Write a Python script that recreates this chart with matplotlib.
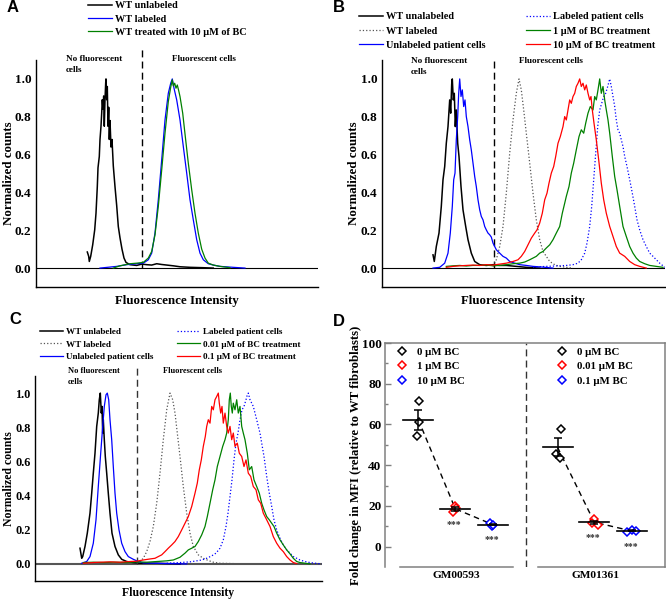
import matplotlib
matplotlib.use("Agg")
import matplotlib.pyplot as plt
from matplotlib.lines import Line2D
import numpy as np

plt.rcParams['font.family'] = ['Liberation Serif', 'DejaVu Serif']
plt.rcParams['font.weight'] = 'bold'
plt.rcParams['axes.labelweight'] = 'bold'

# ---------------- DATA ----------------
# Panel A (x: fluorescence intensity, arbitrary units; y: normalized counts)
A_wt_unlab_x = [51.3,52.7,53.3,54.7,56.7,58.7,60,61.3,62,63.3,64,65,65.7,66.3,67,67.7,68.3,69,69.7,70,70.7,71.3,72,72.7,73.3,74,75,76,77.3,79,80.7,82.3,84,86,88,90,94,100.7,105.7,110.7,115.7,120.7,125.7,130.7,137.3,144,154,167.3,177.3]
A_wt_unlab_y = [0.085,0.062,0.035,0.062,0.123,0.202,0.29,0.43,0.53,0.59,0.68,0.75,0.82,0.89,0.84,0.91,0.75,0.89,0.98,1.0,0.89,0.96,0.75,0.85,0.68,0.78,0.64,0.68,0.54,0.43,0.33,0.22,0.16,0.10,0.053,0.03,0.018,0.014,0.021,0.018,0.016,0.023,0.019,0.016,0.012,0.007,0.004,0.002,0.0]
A_wt_lab_x = [64,80.7,90.7,100.7,107.3,112.3,115.7,119,122.3,125.7,129,132.3,134.7,136.3,138,140.7,144,147.3,150.7,154,157.3,160.7,164,167.3,172.3,177.3,184,197.3,209]
A_wt_lab_y = [0,0.009,0.018,0.023,0.026,0.044,0.079,0.185,0.361,0.572,0.783,0.924,0.977,1.0,0.951,0.889,0.783,0.643,0.502,0.361,0.255,0.150,0.079,0.044,0.023,0.016,0.009,0.004,0]
A_wt_bc_x = [77.3,84,94,100.7,107.3,112.3,115.7,119,122.3,125.7,129,132.3,134.7,136.3,137.3,138.7,140,141.3,142.7,144,146.7,149.3,152.3,155.7,159,162.3,165.7,169,172.3,177.3,184,194]
A_wt_bc_y = [0,0.012,0.023,0.026,0.030,0.053,0.088,0.176,0.326,0.519,0.713,0.880,0.956,0.995,0.963,0.977,0.951,0.968,0.938,0.907,0.819,0.695,0.555,0.414,0.290,0.185,0.100,0.053,0.026,0.016,0.009,0.002]
A_labels = ["WT unlabeled", "WT labeled", "WT treated with 10 μM of BC"]

# Panel B
B_wt_unlab_x = [51,52.3,54.3,57,59.3,61,62.7,64.3,66,67.7,68.7,69.7,70.3,71.3,72.3,73.3,74.3,75.7,77,79,81,83.7,86,89.3,92.7,97.7,104.3,111,117.7,124.3,134.3,144.3,157.7]
B_wt_unlab_y = [0.070,0.035,0.114,0.185,0.326,0.467,0.537,0.660,0.748,0.889,0.819,0.974,1.0,0.889,0.924,0.748,0.836,0.660,0.590,0.431,0.308,0.220,0.150,0.079,0.035,0.018,0.014,0.018,0.014,0.014,0.009,0.004,0]
B_pat_unlab_x = [51,57.7,62.7,66,68.3,70.3,71.7,73,74.3,75.7,76.7,77.7,79,80.3,81.7,83,84.3,86,87.7,89.3,91,92.7,94.3,96,97.7,99.3,101,102.7,104.3,106,107.7,109.3,111,112.7,114.3,117.7,121,124.3,127.7,132.7,137.7,144.3,151,161,171]
B_pat_unlab_y = [0,0.004,0.026,0.079,0.185,0.326,0.467,0.502,0.678,0.801,0.924,1.0,0.907,0.942,0.854,0.889,0.801,0.748,0.678,0.625,0.555,0.484,0.431,0.361,0.308,0.273,0.255,0.220,0.202,0.185,0.176,0.164,0.132,0.114,0.097,0.079,0.062,0.053,0.035,0.026,0.018,0.014,0.009,0.005,0]
B_wt_lab_x = [111,114.3,117.7,121,124.3,127.7,131,134.3,137,139.3,141.7,144.3,147.7,151,154.3,157.7,161,164.3,167.7,172.7,177.7,184.3,191]
B_wt_lab_y = [0.009,0.044,0.114,0.220,0.396,0.607,0.783,0.924,1.0,0.942,0.836,0.713,0.555,0.396,0.255,0.150,0.088,0.062,0.035,0.018,0.009,0.004,0]
B_bc10_x = [64.3,71,77.7,84.3,91,97.7,104.3,111,117.7,124.3,131,136,139.3,142.7,146,149.3,152.7,155,157.7,160.3,162.7,165,167,169.3,171.7,173.7,176,178.3,181,182.7,184.3,186,187.7,189.3,191,192.7,194.3,196,197.7,199.3,201,202.7,204.3,206,207.7,209,210.3,212,214.3,216.7,219.3,221.7,224.3,227.7,231,234.3,237.7,242.7,247.7,252.7,257.7,264.3]
B_bc10_y = [0.004,0.009,0.012,0.014,0.016,0.014,0.018,0.016,0.021,0.026,0.035,0.044,0.062,0.088,0.123,0.158,0.185,0.202,0.238,0.290,0.361,0.396,0.449,0.502,0.537,0.590,0.660,0.695,0.748,0.801,0.783,0.836,0.889,0.871,0.907,0.924,0.960,0.977,1.0,0.960,0.977,0.942,0.968,0.924,0.889,0.907,0.836,0.766,0.678,0.572,0.449,0.361,0.290,0.220,0.167,0.114,0.079,0.062,0.035,0.018,0.009,0]
B_bc1_x = [64.3,71,77.7,84.3,91,97.7,104.3,111,117.7,124.3,131,137.7,142.7,147.7,151,154.3,157.7,161,164.3,167.7,171,174.3,177.7,180.3,182.7,184.3,187,189.3,191.7,194.3,197,199.3,201.7,203.7,206,208.3,211,212.7,214.3,216,217.7,219.3,221,222.7,224.3,226,227.7,230.3,232.7,235,237.7,241,244.3,247.7,251,254.3,257.7,262.7,267.7,274.3,281]
B_bc1_y = [0.009,0.012,0.014,0.011,0.014,0.014,0.016,0.012,0.014,0.018,0.023,0.026,0.032,0.044,0.053,0.062,0.079,0.088,0.106,0.123,0.150,0.185,0.220,0.290,0.343,0.379,0.431,0.502,0.555,0.625,0.695,0.731,0.713,0.766,0.819,0.854,0.836,0.907,0.889,0.942,1.0,0.924,0.960,0.889,0.836,0.783,0.713,0.590,0.484,0.414,0.326,0.220,0.167,0.114,0.079,0.053,0.035,0.023,0.014,0.009,0.004]
B_pat_lab_x = [151,164.3,177.7,184.3,191,196,199.3,202.7,205,207.7,209.7,211.7,213.7,215.7,217.7,219.7,221.7,223.7,225.7,227.7,229.3,231,232.7,234.3,236,237.7,239.3,241,242.7,245,247.7,250.3,252.7,255,257.7,261,264.3,267.7,271,274.3,277.7,281,283]
B_pat_lab_y = [0.005,0.009,0.012,0.014,0.018,0.026,0.044,0.079,0.132,0.220,0.326,0.467,0.607,0.748,0.836,0.871,0.907,0.924,0.960,1.0,0.960,0.907,0.854,0.783,0.731,0.713,0.678,0.643,0.590,0.537,0.467,0.396,0.326,0.255,0.202,0.150,0.114,0.079,0.062,0.044,0.026,0.012,0.004]
B_labels_left = ["WT unalabeled", "WT labeled", "Unlabeled patient cells"]
B_labels_right = ["Labeled patient cells", "1 μM of BC treatment", "10 μM of BC treatment"]

# Panel C
C_wt_unlab_x = [45,46.7,47.7,50,52.3,55,56.7,58.3,60,61.7,63.3,64.3,65.3,66.3,67,67.7,68.3,69.3,70.3,71.7,73.3,75,77,80,83.3,86.7,91.7,98.3,105,111.7,121.7,131.7,145]
C_wt_unlab_y = [0.092,0.033,0.043,0.102,0.180,0.297,0.414,0.531,0.648,0.805,0.883,0.961,1.0,0.883,0.922,0.766,0.844,0.727,0.629,0.531,0.414,0.297,0.180,0.102,0.053,0.027,0.014,0.008,0.004,0.004,0.004,0.002,0]
C_pat_unlab_x = [46.7,51.7,55,58.3,61,63.3,65.7,67.7,69.3,71,72.3,73.7,75,76.7,78.3,80,81.7,84,86.7,90,93.3,98.3,103.3,108.3,118.3,131.7,151.7]
C_pat_unlab_y = [0.004,0.014,0.043,0.121,0.258,0.453,0.648,0.805,0.922,0.990,1.0,0.961,0.844,0.727,0.570,0.414,0.297,0.199,0.121,0.072,0.043,0.027,0.014,0.006,0.004,0.002,0]
C_wt_lab_x = [101.7,105,108.3,111.7,115,118.3,121.7,125,128.3,131.7,135,137.7,140,142.3,145,148.3,151.7,155,158.3,163.3,168.3,173.3,178.3,185,198.3,215]
C_wt_lab_y = [0.004,0.014,0.033,0.072,0.131,0.219,0.355,0.531,0.727,0.902,1.0,0.961,0.883,0.766,0.629,0.453,0.297,0.180,0.102,0.053,0.033,0.020,0.010,0.004,0.002,0]
C_bc01_x = [48.3,58.3,65,75,85,95,101.7,108.3,115,120,123.3,126.7,130,133.3,136.7,140,143.3,146.7,150,153.3,156.7,160,162.3,164.3,166.3,168.3,170.3,171.7,173.3,175,176.7,178.3,180,181.7,183.3,184.3,185.7,187,188.3,190,191.7,193.3,195,196.7,198.3,200,202.3,204.3,206.7,209,211,213.3,215.7,218.3,221,223.3,225.7,228.3,231.7,235,238.3,241.7,245,248.3,251.7,255,258.3,261.7]
C_bc01_y = [0.004,0.008,0.010,0.012,0.010,0.014,0.016,0.023,0.029,0.033,0.043,0.053,0.072,0.092,0.111,0.131,0.160,0.199,0.238,0.277,0.336,0.414,0.473,0.551,0.609,0.688,0.746,0.805,0.844,0.824,0.922,0.902,0.961,0.980,1.0,0.941,0.883,0.922,0.824,0.883,0.805,0.766,0.805,0.727,0.766,0.688,0.707,0.648,0.629,0.570,0.609,0.531,0.512,0.453,0.434,0.375,0.355,0.297,0.258,0.219,0.160,0.121,0.092,0.072,0.043,0.023,0.008,0.002]
C_bc001_x = [48.3,58.3,68.3,78.3,91.7,101.7,111.7,121.7,131.7,138.3,145,150,153.3,156.7,160,163.3,166.7,170,172.3,175,177.7,180,182.3,185,187.7,190,191.7,193.3,194.3,195.3,196.3,197.3,198.3,200,201.7,203.3,205,206.7,208.3,210,212.3,214.3,216.7,219,221.7,224.3,226.7,229,231.7,234.3,236.7,239,241.7,245,248.3,251.7,255,258.3,261.7,265,270,275]
C_bc001_y = [0.008,0.010,0.008,0.010,0.008,0.012,0.010,0.014,0.018,0.023,0.039,0.063,0.082,0.092,0.102,0.131,0.170,0.219,0.277,0.355,0.434,0.492,0.570,0.629,0.688,0.727,0.766,0.844,0.961,1.0,0.922,0.883,0.941,0.902,0.961,0.883,0.922,0.805,0.766,0.727,0.648,0.551,0.570,0.492,0.453,0.414,0.355,0.316,0.277,0.258,0.238,0.219,0.180,0.141,0.111,0.082,0.059,0.033,0.014,0.008,0.004,0]
C_pat_lab_x = [131.7,145,155,161.7,166.7,171.7,176.7,181,185,188.3,191,193,195,197,199,201,203,205,207,209,211,212.3,213.3,215,216.7,218.3,220,221.7,223.3,225,226.7,229,231.7,234.3,236.7,239,241.7,245,248.3,251.7,255,258.3,261.7,265,270,275,280,286.7]
C_pat_lab_y = [0.004,0.008,0.012,0.018,0.023,0.033,0.047,0.063,0.092,0.141,0.219,0.297,0.395,0.492,0.609,0.707,0.766,0.844,0.902,0.922,0.961,0.990,1.0,0.961,0.941,0.922,0.883,0.844,0.805,0.766,0.707,0.629,0.512,0.414,0.336,0.258,0.199,0.150,0.111,0.082,0.063,0.043,0.033,0.023,0.014,0.008,0.004,0]
C_labels_left = ["WT unlabeled", "WT labeled", "Unlabeled patient cells"]
C_labels_right = ["Labeled patient cells", "0.01 μM of BC treatment", "0.1 μM of BC treatment"]

# Panel D (fold change in MFI relative to WT fibroblasts; three replicates each)
D_groups = ["GM00593", "GM01361"]
D_g1_labels = ["0 μM BC", "1 μM BC", "10 μM BC"]
D_g2_labels = ["0 μM BC", "0.01 μM BC", "0.1 μM BC"]
D_g1_values = [[71.4, 61.2, 54.5], [19.9, 16.9, 18.9], [11.6, 10.1, 10.8]]
D_g2_values = [[57.6, 45.3, 43.5], [13.6, 11.5, 10.8], [7.4, 8.2, 7.5]]
D_signif = ["", "***", "***"]

# ---------------- FIGURE ----------------
W, H = 666, 601
fig = plt.figure(figsize=(W / 100, H / 100), dpi=100)

def fx(px):
    return px / W

def fy(py):
    return 1 - py / H

def rect(l, t, r, b):
    return [fx(l), fy(b), (r - l) / W, (b - t) / H]

lw = 0.9
BLACK, BLUE, GREEN, RED, GRAY = 'black', '#0000ff', '#008000', '#ff0000', '#555555'


def hist_axes(r, xmax, tick_size, ylab_size, ylab_x, zero_color, zero_lw):
    ax = fig.add_axes(rect(*r))
    ax.set_xlim(0, xmax)
    ax.set_ylim(-0.1, 1.1)
    for s in ('top', 'right'):
        ax.spines[s].set_visible(False)
    for s in ('left', 'bottom'):
        ax.spines[s].set_linewidth(1.0)
    ax.set_xticks([])
    yt = [0, 0.2, 0.4, 0.6, 0.8, 1.0]
    ax.set_yticks(yt)
    ax.set_yticklabels([f"{v:.1f}" for v in yt])
    ax.tick_params(axis='y', length=0, pad=3.2, labelsize=tick_size)
    ax.axhline(0, color=zero_color, lw=zero_lw, zorder=1)
    ax.set_ylabel("Normalized counts", fontsize=ylab_size, va='center')
    ax.yaxis.set_label_coords(ylab_x, 0.5)
    return ax


def gate(ax, x, ytop, color, left_txt_xy, right_txt_xy, size):
    ax.plot([x, x], [0, ytop], color=color, lw=1.0, ls=(0, (5, 3)), clip_on=False, zorder=1)
    ax.text(*left_txt_xy, "No fluorescent\ncells", transform=fig.transFigure, fontsize=size,
            va='top', ha='left', linespacing=1.45)
    ax.text(*right_txt_xy, "Fluorescent cells", transform=fig.transFigure, fontsize=size,
            va='top', ha='left')


def legend(ax, handles, labels, x, y, size, hl, tp, ls):
    return ax.legend(handles, labels, loc='upper left', bbox_to_anchor=(fx(x), fy(y)),
                     bbox_transform=fig.transFigure, frameon=False, fontsize=size, borderpad=0,
                     borderaxespad=0, handlelength=hl, handletextpad=tp, labelspacing=ls)


# ---- Panel A ----
axA = hist_axes((36, 60, 318, 287), 282, 9.5, 9.3, (9 - 36) / 282, 'black', 0.8)
lA1, = axA.plot(A_wt_unlab_x, A_wt_unlab_y, color=BLACK, lw=1.1)
lA2, = axA.plot(A_wt_lab_x, A_wt_lab_y, color=BLUE, lw=lw)
lA3, = axA.plot(A_wt_bc_x, A_wt_bc_y, color=GREEN, lw=lw)
gate(axA, 106, 1.16, 'black', (fx(66), fy(55)), (fx(172), fy(55)), 6.6)
legend(axA, [lA1, lA2, lA3], A_labels, 88, 1, 7.4, 2.35, 0.3, 0.4)
fig.text(fx(177), fy(301), "Fluorescence Intensity", fontsize=9.3, ha='center', va='center')

# ---- Panel B ----
axB = hist_axes((382, 60, 665, 287), 283, 9.5, 9.3, (354 - 382) / 283, 'black', 0.8)
lB1, = axB.plot(B_wt_unlab_x, B_wt_unlab_y, color=BLACK, lw=1.1)
lB2, = axB.plot(B_wt_lab_x, B_wt_lab_y, color=GRAY, lw=lw, ls=':')
lB3, = axB.plot(B_pat_unlab_x, B_pat_unlab_y, color=BLUE, lw=lw)
lB4, = axB.plot(B_pat_lab_x, B_pat_lab_y, color=BLUE, lw=lw, ls=':')
lB5, = axB.plot(B_bc1_x, B_bc1_y, color=GREEN, lw=lw)
lB6, = axB.plot(B_bc10_x, B_bc10_y, color=RED, lw=lw)
gate(axB, 112, 1.11, 'black', (fx(411), fy(57)), (fx(519), fy(57)), 6.6)
legB1 = legend(axB, [lB1, lB2, lB3], B_labels_left, 359, 12, 7.4, 2.35, 0.3, 0.5)
axB.add_artist(legB1)
legend(axB, [lB4, lB5, lB6], B_labels_right, 526, 12, 7.4, 2.35, 0.25, 0.5)
fig.text(fx(523), fy(301), "Fluorescence Intensity", fontsize=9.3, ha='center', va='center')

# ---- Panel C ----
axC = hist_axes((35, 376, 322, 581), 287, 8.8, 8.5, (9 - 35) / 287, '#555555', 1.5)
lC1, = axC.plot(C_wt_unlab_x, C_wt_unlab_y, color=BLACK, lw=1.1)
lC2, = axC.plot(C_wt_lab_x, C_wt_lab_y, color=GRAY, lw=lw, ls=':')
lC3, = axC.plot(C_pat_unlab_x, C_pat_unlab_y, color=BLUE, lw=lw)
lC4, = axC.plot(C_pat_lab_x, C_pat_lab_y, color=BLUE, lw=lw, ls=':')
lC5, = axC.plot(C_bc001_x, C_bc001_y, color=GREEN, lw=lw)
lC6, = axC.plot(C_bc01_x, C_bc01_y, color=RED, lw=lw)
gate(axC, 102, 1.15, '#333333', (fx(68), fy(367)), (fx(163), fy(367)), 6.0)
legC1 = legend(axC, [lC1, lC2, lC3], C_labels_left, 40, 328, 6.6, 2.55, 0.25, 0.42)
axC.add_artist(legC1)
legend(axC, [lC4, lC5, lC6], C_labels_right, 177, 328, 6.6, 2.55, 0.25, 0.42)
fig.text(fx(178), fy(593), "Fluorescence Intensity", fontsize=8.5, ha='center', va='center')

# ---- Panel D ----
axD = fig.add_axes(rect(385, 343, 665, 567))
axD.set_xlim(0, 280)
axD.set_ylim(-10, 100)
DGRAY = '#808080'
for s in ('top', 'right', 'left'):
    axD.spines[s].set_color(DGRAY)
    axD.spines[s].set_linewidth(1.1)
axD.spines['bottom'].set_visible(False)
axD.set_yticks([0, 20, 40, 60, 80, 100])
axD.set_yticks([10, 30, 50, 70, 90], minor=True)
axD.tick_params(axis='y', which='major', direction='in', length=4, width=1, color=DGRAY,
                pad=2.5, labelsize=9.5)
axD.tick_params(axis='y', which='minor', direction='in', length=2.5, width=1, color=DGRAY)
axD.set_ylabel("Fold change in MFI (relative to WT fibroblasts)", fontsize=9.2, va='center')
axD.yaxis.set_label_coords((356 - 385) / 280, 0.5)

pos_g1 = [33.3, 70.3, 107.8]
pos_g2 = [172.5, 209.3, 246.7]
jit_g1 = [[1, 1, -1], [0, -2, 1], [-3, -1, 0.5]]
jit_g2 = [[3.5, -1.5, 2], [0, -2.6, 3.4], [-5, 0, 4.3]]
cols = [BLACK, RED, BLUE]
sig_offset = 7.5
MS = 3.7

handles_g = []
for pos, jit, vals, labels in ((pos_g1, jit_g1, D_g1_values, D_g1_labels),
                                (pos_g2, jit_g2, D_g2_values, D_g2_labels)):
    means = []
    hs = []
    for p, j, v, c, sg in zip(pos, jit, vals, cols, D_signif):
        v = np.asarray(v)
        m = v.mean()
        sem = v.std(ddof=1) / np.sqrt(len(v))
        means.append(m)
        axD.plot(np.asarray(j) + p, v, ls='none', marker='D', ms=MS, mfc='white',
                 mec=c, mew=1.1, zorder=3)
        axD.plot([p - 15, p + 15], [m, m], color='black', lw=1.2, zorder=4)
        axD.errorbar([p], [m], yerr=[sem], color='black', lw=1.1, capsize=3, capthick=1.1, zorder=4)
        if sg:
            axD.text(p - 1, m - sig_offset, sg, ha='center', va='center', fontsize=7, color='#333333')
        hs.append(Line2D([], [], ls='none', marker='D', ms=MS, mfc='white', mec=c, mew=1.1))
    axD.plot(pos, means, color='black', lw=1.0, ls=(0, (4, 3)), zorder=2)
    handles_g.append((hs, labels))

legD1 = legend(axD, handles_g[0][0], handles_g[0][1], 396.5, 347, 7.8, 1.0, 0.9, 0.45)
axD.add_artist(legD1)
legend(axD, handles_g[1][0], handles_g[1][1], 556.5, 347, 7.8, 1.0, 0.9, 0.45)

# separator and split bottom axis
axD.axvline(141, color='#333333', lw=1.0, ls=(0, (5, 3)))
axD.plot([14.7, 128], [-10, -10], color=DGRAY, lw=1.1, clip_on=False)
axD.plot([153, 280], [-10, -10], color=DGRAY, lw=1.1, clip_on=False)
axD.set_xticks([pos_g1[1] + 0.7, pos_g2[1] + 0.7])
axD.set_xticklabels(D_groups)
axD.tick_params(axis='x', length=0, pad=3, labelsize=8.2)

# panel letters
for letter, (px, py) in zip("ABCD", [(13, 8), (339, 8), (15, 320), (339, 322)]):
    fig.text(fx(px), fy(py), letter, fontsize=12, fontweight='bold', family=['Liberation Sans', 'DejaVu Sans'],
             ha='center', va='center')

fig.savefig("out.png", dpi=100)
